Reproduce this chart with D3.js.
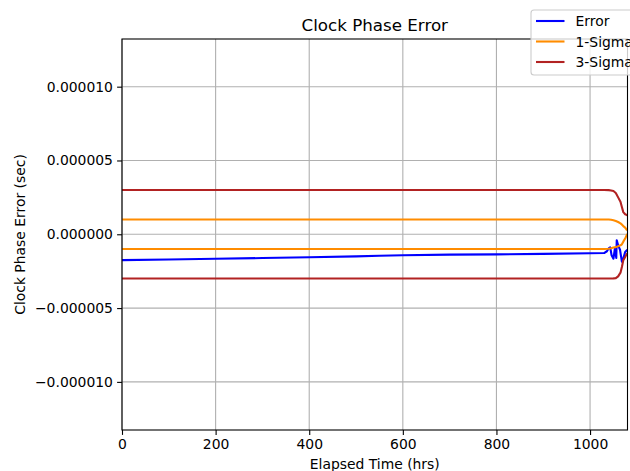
<!DOCTYPE html>
<html>
<head>
<meta charset="utf-8">
<script src="https://cdn.jsdelivr.net/npm/d3@7"></script>
<style>
  html, body { margin: 0; padding: 0; background: #fff; }
  svg { display: block; font-family: "DejaVu Sans", sans-serif; }
</style>
</head>
<body>
<svg id="chart" width="630" height="471"></svg>
<script>
// ---- data (seconds vs elapsed hours) ----
const errorTime = [0, 100, 200, 300, 400, 500, 550, 600, 700, 800, 900, 1000, 1030, 1036, 1040, 1043, 1046, 1050, 1053, 1056, 1057, 1060, 1064, 1068, 1071, 1075, 1078, 1080];
const errorValues = [-1.75e-6, -1.71e-6, -1.66e-6, -1.61e-6, -1.56e-6, -1.50e-6, -1.45e-6, -1.42e-6, -1.38e-6, -1.36e-6, -1.33e-6, -1.29e-6, -1.27e-6, -1.15e-6, -0.95e-6, -0.88e-6, -1.42e-6, -1.65e-6, -0.97e-6, -1.6e-6, -0.4e-6, -0.75e-6, -1.05e-6, -1.85e-6, -1.65e-6, -1.2e-6, -1.1e-6, -1.05e-6];

const sigmaTime = [0, 1030, 1040, 1045, 1050, 1055, 1060, 1065, 1068, 1071, 1075, 1078, 1080];
const sigma1Upper = [1.0e-6, 1.0e-6, 1.0e-6, 0.98e-6, 0.95e-6, 0.9e-6, 0.83e-6, 0.74e-6, 0.66e-6, 0.55e-6, 0.45e-6, 0.32e-6, 0.28e-6];
const sigma1Lower = [-1.0e-6, -1.0e-6, -0.98e-6, -0.95e-6, -0.9e-6, -0.87e-6, -0.81e-6, -0.75e-6, -0.68e-6, -0.5e-6, -0.29e-6, -0.07e-6, 0.0];
const sigma3Upper = [3.0e-6, 3.0e-6, 2.99e-6, 2.97e-6, 2.93e-6, 2.8e-6, 2.5e-6, 2.2e-6, 1.85e-6, 1.5e-6, 1.36e-6, 1.31e-6, 1.29e-6];
const sigma3Lower = [-3.0e-6, -3.0e-6, -3.0e-6, -3.0e-6, -2.99e-6, -2.97e-6, -2.85e-6, -2.6e-6, -2.22e-6, -1.76e-6, -1.54e-6, -1.36e-6, -1.3e-6];

const xTicks = [0, 200, 400, 600, 800, 1000];
const yTicks = [-1e-5, -5e-6, 0, 5e-6, 1e-5];
const legendLabels = ["Error", "1-Sigma", "3-Sigma"];

// ---- layout ----
const svg = d3.select("#chart");
const mL = 122, mR = 627.5, mT = 39, mB = 430;
const x = d3.scaleLinear().domain([0, 1080]).range([mL, mR]);
const y = d3.scaleLinear().domain([-1.326e-5, 1.323e-5]).range([mB, mT]);

const colors = { err: "#0000ff", s1: "#ff8c00", s3: "#b22222" };

svg.append("rect").attr("width", 630).attr("height", 471).attr("fill", "#fff");

// grid
const grid = svg.append("g");
grid.selectAll(".gx").data(xTicks).join("line")
  .attr("x1", d => x(d)).attr("x2", d => x(d)).attr("y1", mT).attr("y2", mB)
  .attr("stroke", "#b0b0b0").attr("stroke-width", 1.1);
grid.selectAll(".gy").data(yTicks).join("line")
  .attr("y1", d => y(d)).attr("y2", d => y(d)).attr("x1", mL).attr("x2", mR)
  .attr("stroke", "#b0b0b0").attr("stroke-width", 1.1);

// clip
svg.append("clipPath").attr("id", "clip").append("rect")
  .attr("x", mL).attr("y", mT).attr("width", mR - mL).attr("height", mB - mT);

const plot = svg.append("g").attr("clip-path", "url(#clip)");
function drawLine(times, vals, color) {
  const line = d3.line().x((d, i) => x(times[i])).y(d => y(d));
  plot.append("path").datum(vals).attr("d", line)
    .attr("fill", "none").attr("stroke", color).attr("stroke-width", 2.1)
    .attr("stroke-linejoin", "round").attr("stroke-linecap", "square");
}
drawLine(errorTime, errorValues, colors.err);
drawLine(sigmaTime, sigma1Upper, colors.s1);
drawLine(sigmaTime, sigma1Lower, colors.s1);
drawLine(sigmaTime, sigma3Upper, colors.s3);
drawLine(sigmaTime, sigma3Lower, colors.s3);

// axes
const fmtY = d => d3.format(".6f")(d).replace("-", "\u2212");
const xAxis = svg.append("g").attr("transform", `translate(0,${mB})`)
  .call(d3.axisBottom(x).tickValues(xTicks).tickSize(4.9).tickPadding(4.2).tickFormat(d3.format("d")));
const yAxis = svg.append("g").attr("transform", `translate(${mL},0)`)
  .call(d3.axisLeft(y).tickValues(yTicks).tickSize(4.9).tickPadding(4.2).tickFormat(fmtY));
[xAxis, yAxis].forEach(a => {
  a.select(".domain").remove();
  a.selectAll("line").attr("stroke", "#000").attr("stroke-width", 1.1);
  a.selectAll("text").attr("fill", "#000").attr("font-size", "13.9px").attr("font-family", "DejaVu Sans");
});

// spines
svg.append("rect").attr("x", mL).attr("y", mT).attr("width", mR - mL).attr("height", mB - mT)
  .attr("fill", "none").attr("stroke", "#000").attr("stroke-width", 1.1);

// titles
svg.append("text").attr("x", (mL + mR) / 2).attr("y", 31).attr("text-anchor", "middle")
  .attr("font-size", "16.7px").attr("fill", "#000").text("Clock Phase Error");
svg.append("text").attr("x", (mL + mR) / 2).attr("y", 469).attr("text-anchor", "middle")
  .attr("font-size", "13.9px").attr("fill", "#000").text("Elapsed Time (hrs)");
svg.append("text").attr("transform", `translate(20,${(mT + mB) / 2}) rotate(-90)`)
  .attr("dy", "0.35em").attr("text-anchor", "middle")
  .attr("font-size", "13.9px").attr("fill", "#000").text("Clock Phase Error (sec)");

// legend
const lg = svg.append("g");
lg.append("rect").attr("x", 531).attr("y", 10).attr("width", 120).attr("height", 65)
  .attr("rx", 3).attr("fill", "#fff").attr("fill-opacity", 0.8)
  .attr("stroke", "#cccccc").attr("stroke-width", 1.1);
const legendColors = [colors.err, colors.s1, colors.s3];
const rowY = [21, 41.5, 62];
legendLabels.forEach((lab, i) => {
  lg.append("line").attr("x1", 536).attr("x2", 564.5).attr("y1", rowY[i]).attr("y2", rowY[i])
    .attr("stroke", legendColors[i]).attr("stroke-width", 2.1);
  lg.append("text").attr("x", 575.5).attr("y", rowY[i]).attr("dy", "0.36em")
    .attr("font-size", "13.9px").attr("fill", "#000").text(lab);
});
</script>
</body>
</html>
